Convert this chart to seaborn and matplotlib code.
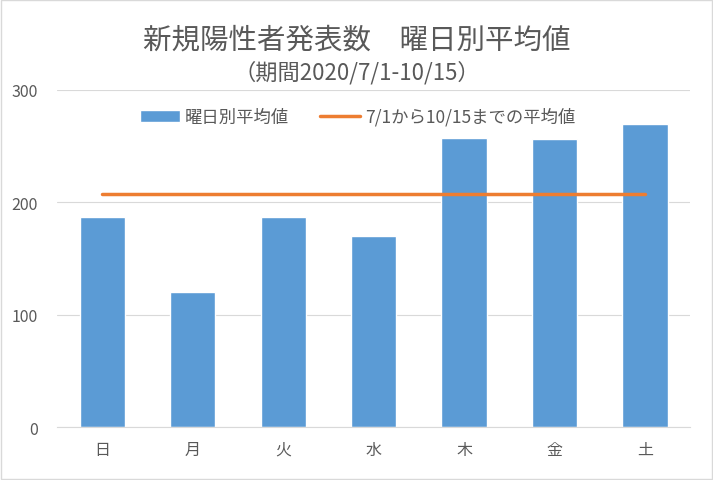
import matplotlib
matplotlib.use("Agg")
import matplotlib.pyplot as plt
import seaborn as sns
import pandas as pd

# 曜日別平均値 (期間2020/7/1-10/15)
days = ["日", "月", "火", "水", "木", "金", "土"]
averages = [187, 120, 187, 170, 257, 256, 270]
overall_avg = 207.5

sns.set_style("white")
plt.rcParams['font.family'] = ['Noto Sans CJK JP', 'DejaVu Sans']

gray = "#595959"
df = pd.DataFrame({"曜日": days, "平均": averages})

fig = plt.figure(figsize=(7.13, 4.81), dpi=100)
ax = fig.add_axes([0.080, 0.110, 0.888, 0.701])

sns.barplot(data=df, x="曜日", y="平均", color="#5B9BD5", saturation=1,
            width=0.5, ax=ax, label="曜日別平均値", zorder=2)
ax.plot(range(len(days)), [overall_avg] * len(days), color="#ED7D31",
        linewidth=2.5, label="7/1から10/15までの平均値", zorder=3)

ax.set_ylim(0, 300)
ax.set_xlim(-0.5, len(days) - 0.5)
ax.set_yticks([0, 100, 200, 300])
ax.yaxis.grid(True, color="#D9D9D9", linewidth=0.8, zorder=0)
ax.set_xlabel("")
ax.set_ylabel("")
for s in ["top", "right", "left"]:
    ax.spines[s].set_visible(False)
ax.spines["bottom"].set_color("#D9D9D9")
ax.tick_params(axis="both", colors=gray, labelsize=11.5, length=0, pad=10)
ax.tick_params(axis="y", pad=14)

handles, labels = ax.get_legend_handles_labels()
order = [labels.index("曜日別平均値"), labels.index("7/1から10/15までの平均値")]
ax.legend([handles[i] for i in order], [labels[i] for i in order],
          loc="upper center", bbox_to_anchor=(0.475, 0.995), ncol=2, frameon=False,
          fontsize=12.5, labelcolor=gray, handlelength=2.3, handletextpad=0.3,
          columnspacing=1.8)

fig.text(0.5, 0.915, "新規陽性者発表数　曜日別平均値", ha="center", va="center",
         fontsize=20.5, color=gray)
fig.text(0.5, 0.848, "（期間2020/7/1-10/15）", ha="center", va="center",
         fontsize=16, color=gray)

# 外枠
fig.patches.append(plt.Rectangle((0.002, 0.002), 0.996, 0.996, transform=fig.transFigure,
                                 fill=False, edgecolor="#D9D9D9", linewidth=1))

fig.savefig("out.png", dpi=100)
